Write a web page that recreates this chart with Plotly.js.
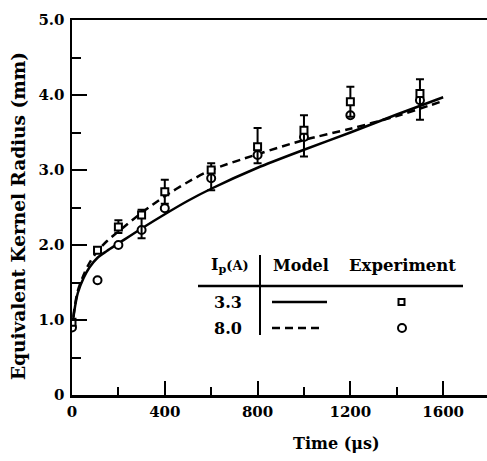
<!DOCTYPE html>
<html><head><meta charset="utf-8">
<script src="https://cdn.plot.ly/plotly-3.0.1.min.js"></script>
<style>html,body{margin:0;padding:0;background:#fff}#chart{width:487px;height:461px}</style>
</head><body><div id="chart"></div>
<script>
// Model curves (time in µs, radius in mm)
const modelTime = [0, 10, 25, 50, 75, 110, 150, 200, 300, 400, 500, 600, 800, 1000, 1200, 1400, 1600];
const model33 = [0.87, 1.12, 1.36, 1.56, 1.7, 1.83, 1.92, 2.02, 2.22, 2.41, 2.59, 2.75, 3.03, 3.27, 3.5, 3.74, 3.97];
const model80 = [0.87, 1.14, 1.39, 1.6, 1.76, 1.92, 2.05, 2.18, 2.43, 2.65, 2.84, 3.0, 3.21, 3.4, 3.55, 3.72, 3.92];
// Experiments
const expTime = [0, 110, 200, 300, 400, 600, 800, 1000, 1200, 1500];
const exp33 = [0.97, 1.93, 2.24, 2.40, 2.71, 3.0, 3.31, 3.53, 3.91, 4.02];
const exp33ErrPlus = [0, 0, 0.09, 0.07, 0.16, 0.09, 0.25, 0.2, 0.2, 0.19];
const exp33ErrMinus = [0, 0, 0.08, 0.31, 0.16, 0.27, 0.22, 0.35, 0.2, 0.35];
const exp80 = [0.9, 1.53, 2.0, 2.2, 2.49, 2.89, 3.2, 3.44, 3.73, 3.93];
// Ticks
const xTickVals = [0, 400, 800, 1200, 1600];
const xTickText = ["0", "400", "800", "1200", "1600"];
const yTickVals = [0, 1, 2, 3, 4, 5];
const yTickText = ["0", "1.0", "2.0", "3.0", "4.0", "5.0"];
const legendCurrents = ["3.3", "8.0"];

const FONT = "DejaVu Serif";
const L = 72, R = 487, T = 20, B = 395;
const px = x => (x - L) / (R - L);
const py = y => (B - y) / (B - T);

const traces = [
  {x: modelTime, y: model33, mode: 'lines', line: {color: 'black', width: 2.5, shape: 'spline', smoothing: 0.8}, hoverinfo: 'skip'},
  {x: modelTime, y: model80, mode: 'lines', line: {color: 'black', width: 2.5, dash: '8px,5px', shape: 'spline', smoothing: 0.8}, hoverinfo: 'skip'},
  {x: expTime, y: exp80, mode: 'markers',
   marker: {symbol: 'circle', size: 8, color: 'white', line: {color: 'black', width: 2}}},
  {x: expTime, y: exp33, mode: 'markers',
   error_y: {type: 'data', symmetric: false, array: exp33ErrPlus, arrayminus: exp33ErrMinus, color: 'black', thickness: 2, width: 4},
   marker: {symbol: 'square', size: 7, color: 'white', line: {color: 'black', width: 2}}}
];

const tickFont = {family: FONT, size: 15, color: 'black', weight: 'bold'};
const legFont = {family: FONT, size: 16, color: 'black', weight: 'bold'};

const annotations = [
  {xref: 'paper', yref: 'paper', x: px(230), y: py(265), text: 'I<sub>p</sub><span style="font-size:13px">(A)</span>', showarrow: false, font: legFont, xanchor: 'center', yanchor: 'middle'},
  {xref: 'paper', yref: 'paper', x: px(301), y: py(265), text: 'Model', showarrow: false, font: legFont, xanchor: 'center', yanchor: 'middle'},
  {xref: 'paper', yref: 'paper', x: px(402), y: py(265), text: 'Experiment', showarrow: false, font: {family: FONT, size: 16.5, color: 'black', weight: 'bold'}, xanchor: 'center', yanchor: 'middle'},
  {xref: 'paper', yref: 'paper', x: px(228), y: py(302), text: legendCurrents[0], showarrow: false, font: legFont, xanchor: 'center', yanchor: 'middle'},
  {xref: 'paper', yref: 'paper', x: px(228), y: py(328), text: legendCurrents[1], showarrow: false, font: legFont, xanchor: 'center', yanchor: 'middle'},
  {xref: 'paper', yref: 'paper', x: px(336), y: py(443), text: 'Time (μs)', showarrow: false, font: {family: FONT, size: 16, color: 'black', weight: 'bold'}, xanchor: 'center', yanchor: 'middle'},
  {xref: 'paper', yref: 'paper', x: px(19), y: py(216), text: 'Equivalent Kernel Radius (mm)', textangle: -90, showarrow: false, font: {family: FONT, size: 18.5, color: 'black', weight: 'bold'}, xanchor: 'center', yanchor: 'middle'}
];

const shapes = [
  {type: 'line', xref: 'paper', yref: 'paper', x0: px(198), x1: px(463), y0: py(286), y1: py(286), line: {color: 'black', width: 2.5}},
  {type: 'line', xref: 'paper', yref: 'paper', x0: px(260), x1: px(260), y0: py(255), y1: py(335), line: {color: 'black', width: 2}},
  {type: 'line', xref: 'paper', yref: 'paper', x0: px(272), x1: px(327), y0: py(302), y1: py(302), line: {color: 'black', width: 2.5}},
  {type: 'line', xref: 'paper', yref: 'paper', x0: px(272), x1: px(323), y0: py(328), y1: py(328), line: {color: 'black', width: 2.5, dash: '8px,5px'}},
  {type: 'rect', xref: 'paper', yref: 'paper', x0: px(398.5), x1: px(404.5), y0: py(305), y1: py(299), line: {color: 'black', width: 2}, fillcolor: 'white'},
  {type: 'circle', xref: 'paper', yref: 'paper', x0: px(398), x1: px(406), y0: py(332), y1: py(324), line: {color: 'black', width: 2}, fillcolor: 'white'}
];

const layout = {
  width: 487, height: 461,
  margin: {l: L, r: 487 - R, t: T, b: 461 - B, pad: 0},
  paper_bgcolor: 'white', plot_bgcolor: 'white',
  showlegend: false,
  xaxis: {range: [0, 1789], tickvals: xTickVals, ticktext: xTickText, ticks: 'inside', ticklen: 14, tickwidth: 2, tickcolor: 'black',
          showline: true, linecolor: 'black', linewidth: 2.5, mirror: true, showgrid: false, zeroline: false,
          tickfont: tickFont, ticklabelstandoff: 1,
          minor: {tickvals: [200, 600, 1000, 1400], ticks: 'inside', ticklen: 8, tickwidth: 2, tickcolor: 'black', showgrid: false}},
  yaxis: {range: [0, 5], tickvals: yTickVals, ticktext: yTickText, ticks: 'inside', ticklen: 15, tickwidth: 2, tickcolor: 'black',
          showline: true, linecolor: 'black', linewidth: 2.5, mirror: true, showgrid: false, zeroline: false,
          tickfont: tickFont, ticklabelstandoff: 2,
          minor: {tickvals: [0.5, 1.5, 2.5, 3.5, 4.5], ticks: 'inside', ticklen: 9, tickwidth: 2, tickcolor: 'black', showgrid: false}},
  annotations: annotations,
  shapes: shapes
};

Plotly.newPlot('chart', traces, layout, {staticPlot: true, displayModeBar: false});
</script></body></html>
